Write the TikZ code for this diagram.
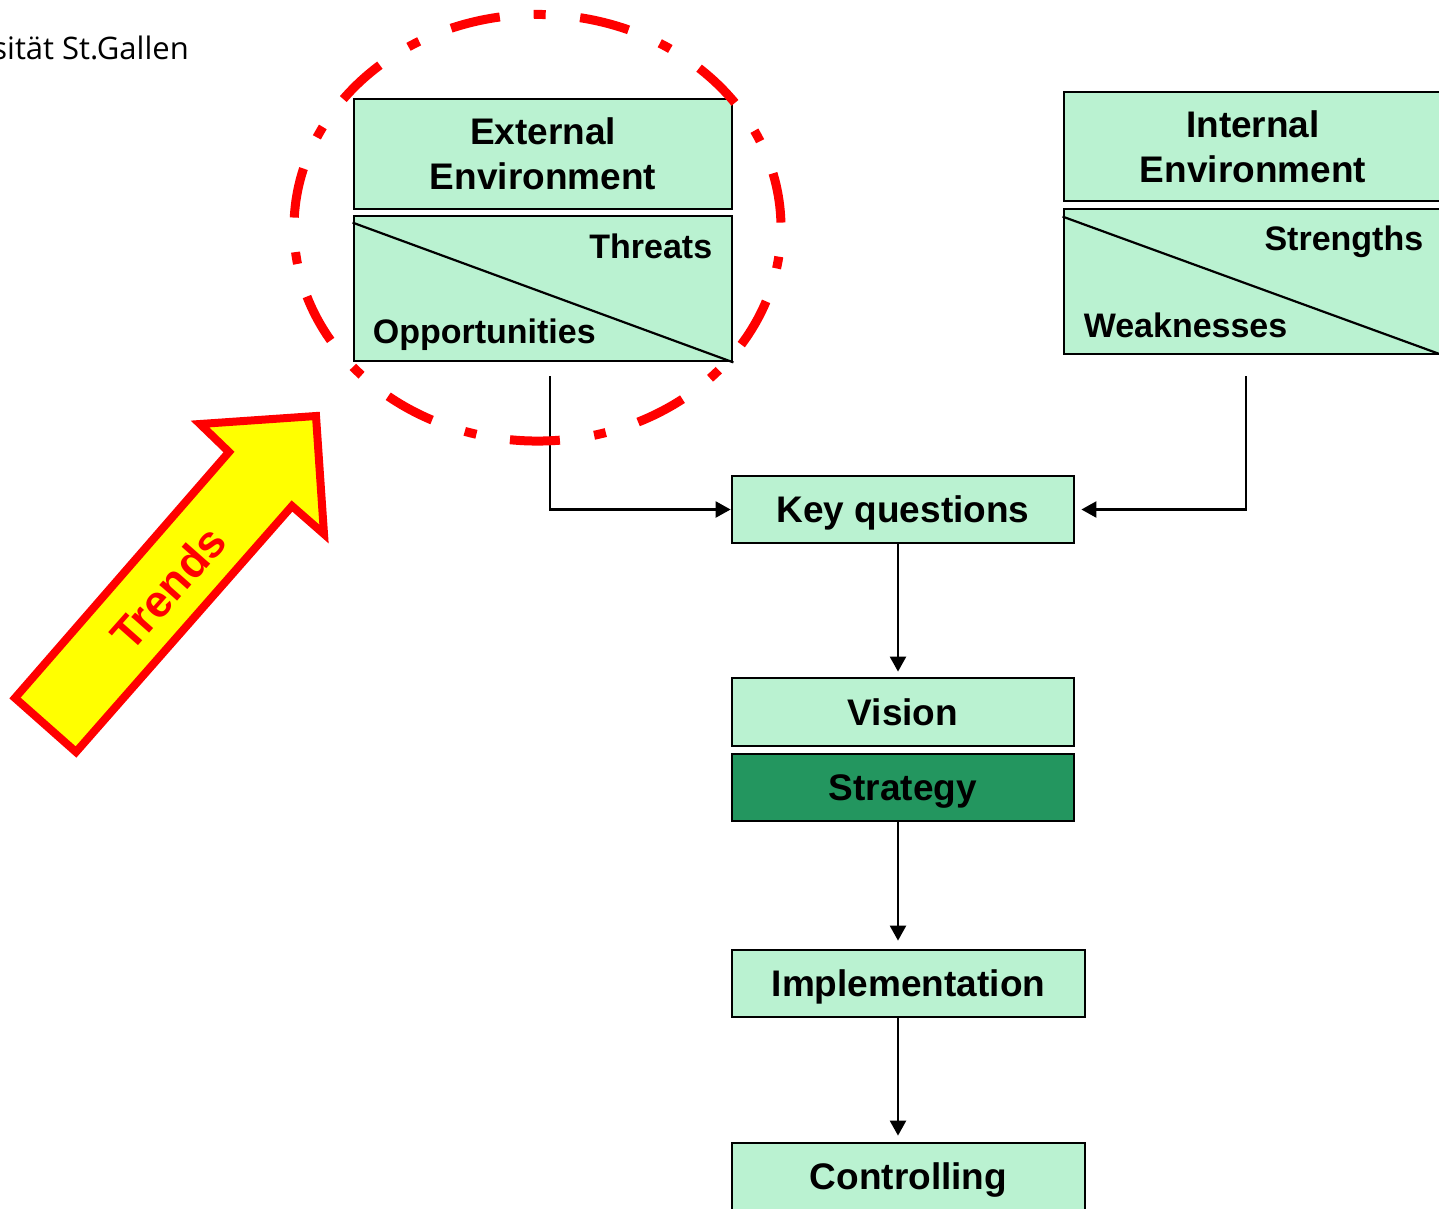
\documentclass[tikz,border=0pt]{standalone}
\usepackage{fontspec}
\setmainfont{Liberation Sans}
\newfontfamily\logofont{Open Sans}
\usetikzlibrary{arrows.meta}

\definecolor{boxgreen}{HTML}{BAF2D1}
\definecolor{stratgreen}{HTML}{23965F}
\definecolor{trendred}{HTML}{FF0000}
\definecolor{trendyellow}{HTML}{FFFF00}

\newcommand\diagboxfont{\fontsize{37pt}{45pt}\selectfont\bfseries}
\newcommand\diagsidefont{\fontsize{34pt}{40pt}\selectfont\bfseries}

\tikzset{
  box/.style={draw=black, line width=2.8pt, fill=boxgreen, inner sep=0pt,
    text height=26.5pt, text depth=0pt, font=\diagboxfont},
  title/.style={inner sep=0pt, align=center, font=\diagboxfont},
  side/.style={inner sep=0pt, font=\diagsidefont},
  diag/.style={draw=black, line width=2.2pt},
  conn/.style={draw=black, line width=2.4pt, -{Triangle[length=15pt,width=16pt]}},
}

\begin{document}
\begin{tikzpicture}[x=1pt,y=-1pt]
\clip (0,0) rectangle (1439,1208);

% logo text
\node[inner sep=0pt, anchor=base east, font=\logofont\fontsize{31pt}{36pt}\selectfont] (logo) at (189,59) {sität St.Gallen};

% external environment
\node[box, minimum width=378pt, minimum height=110pt] (extTop) at (543,154) {};
\node[title] (extTitle) at (extTop.center) {External\\Environment};
\node[box, minimum width=378pt, minimum height=145pt] (extBot) at (543,288.5) {};
\draw[diag] ([yshift=-8pt]extBot.north west) -- (extBot.south east);
\node[side, anchor=base east] (threats) at ([xshift=-21pt,yshift=-44pt]extBot.north east) {Threats};
\node[side, anchor=base west] (opps) at ([xshift=20pt,yshift=19pt]extBot.south west) {Opportunities};

% internal environment
\node[box, minimum width=378pt, minimum height=109pt] (intTop) at (1253,146.5) {};
\node[title] (intTitle) at (intTop.center) {Internal\\Environment};
\node[box, minimum width=378pt, minimum height=145pt] (intBot) at (1253,281.5) {};
\draw[diag] ([yshift=-9pt]intBot.north west) -- (intBot.south east);
\node[side, anchor=base east] (strengths) at ([xshift=-20pt,yshift=-43pt]intBot.north east) {Strengths};
\node[side, anchor=base west] (weak) at ([xshift=21pt,yshift=18pt]intBot.south west) {Weaknesses};

% process chain
\node[box, minimum width=342pt, minimum height=67pt] (key) at (903,509.5) {Key questions};
\node[box, minimum width=342pt, minimum height=68pt] (vision) at (903,712) {Vision};
\node[box, fill=stratgreen, minimum width=342pt, minimum height=67pt] (strategy) at (903,787.5) {Strategy};
\node[box, minimum width=353pt, minimum height=67pt] (impl) at (908.5,983.5) {Implementation};
\node[box, minimum width=353pt, minimum height=67pt] (ctrl) at (908.5,1176.5) {Controlling};

% connectors
\coordinate (spine) at (898,0);
\coordinate (extOut) at ([xshift=7pt,yshift=-14pt]extBot.south);
\coordinate (intOut) at ([xshift=-7pt,yshift=-21pt]intBot.south);
\draw[conn] (extOut) |- (key.west);
\draw[conn, shorten >=6pt] (intOut) |- (key.east);
\draw[conn, shorten >=5pt] (key.south -| spine) -- (vision.north -| spine);
\draw[conn, shorten >=8pt] (strategy.south -| spine) -- (impl.north -| spine);
\draw[conn, shorten >=6pt] (impl.south -| spine) -- (ctrl.north -| spine);

% dash-dotted ring around the external environment
\draw[trendred, line width=9pt, dash pattern=on 50pt off 34pt on 12pt off 34.6pt, dash phase=55pt]
  (537.5,227.75) ellipse [x radius=243.5, y radius=213.3];

% trends arrow
\draw[draw=trendred, fill=trendyellow, line width=8pt, line join=miter]
  (15,698) -- (76,752) -- (292,506) -- (324,534) -- (316,416) -- (200,424) -- (229,452) -- cycle;
\node[inner sep=0pt, rotate=48.5, text=trendred, font=\fontsize{45pt}{50pt}\selectfont\bfseries,
  text height=32pt, text depth=0pt] (trends) at (168,588) {Trends};
\end{tikzpicture}
\end{document}
